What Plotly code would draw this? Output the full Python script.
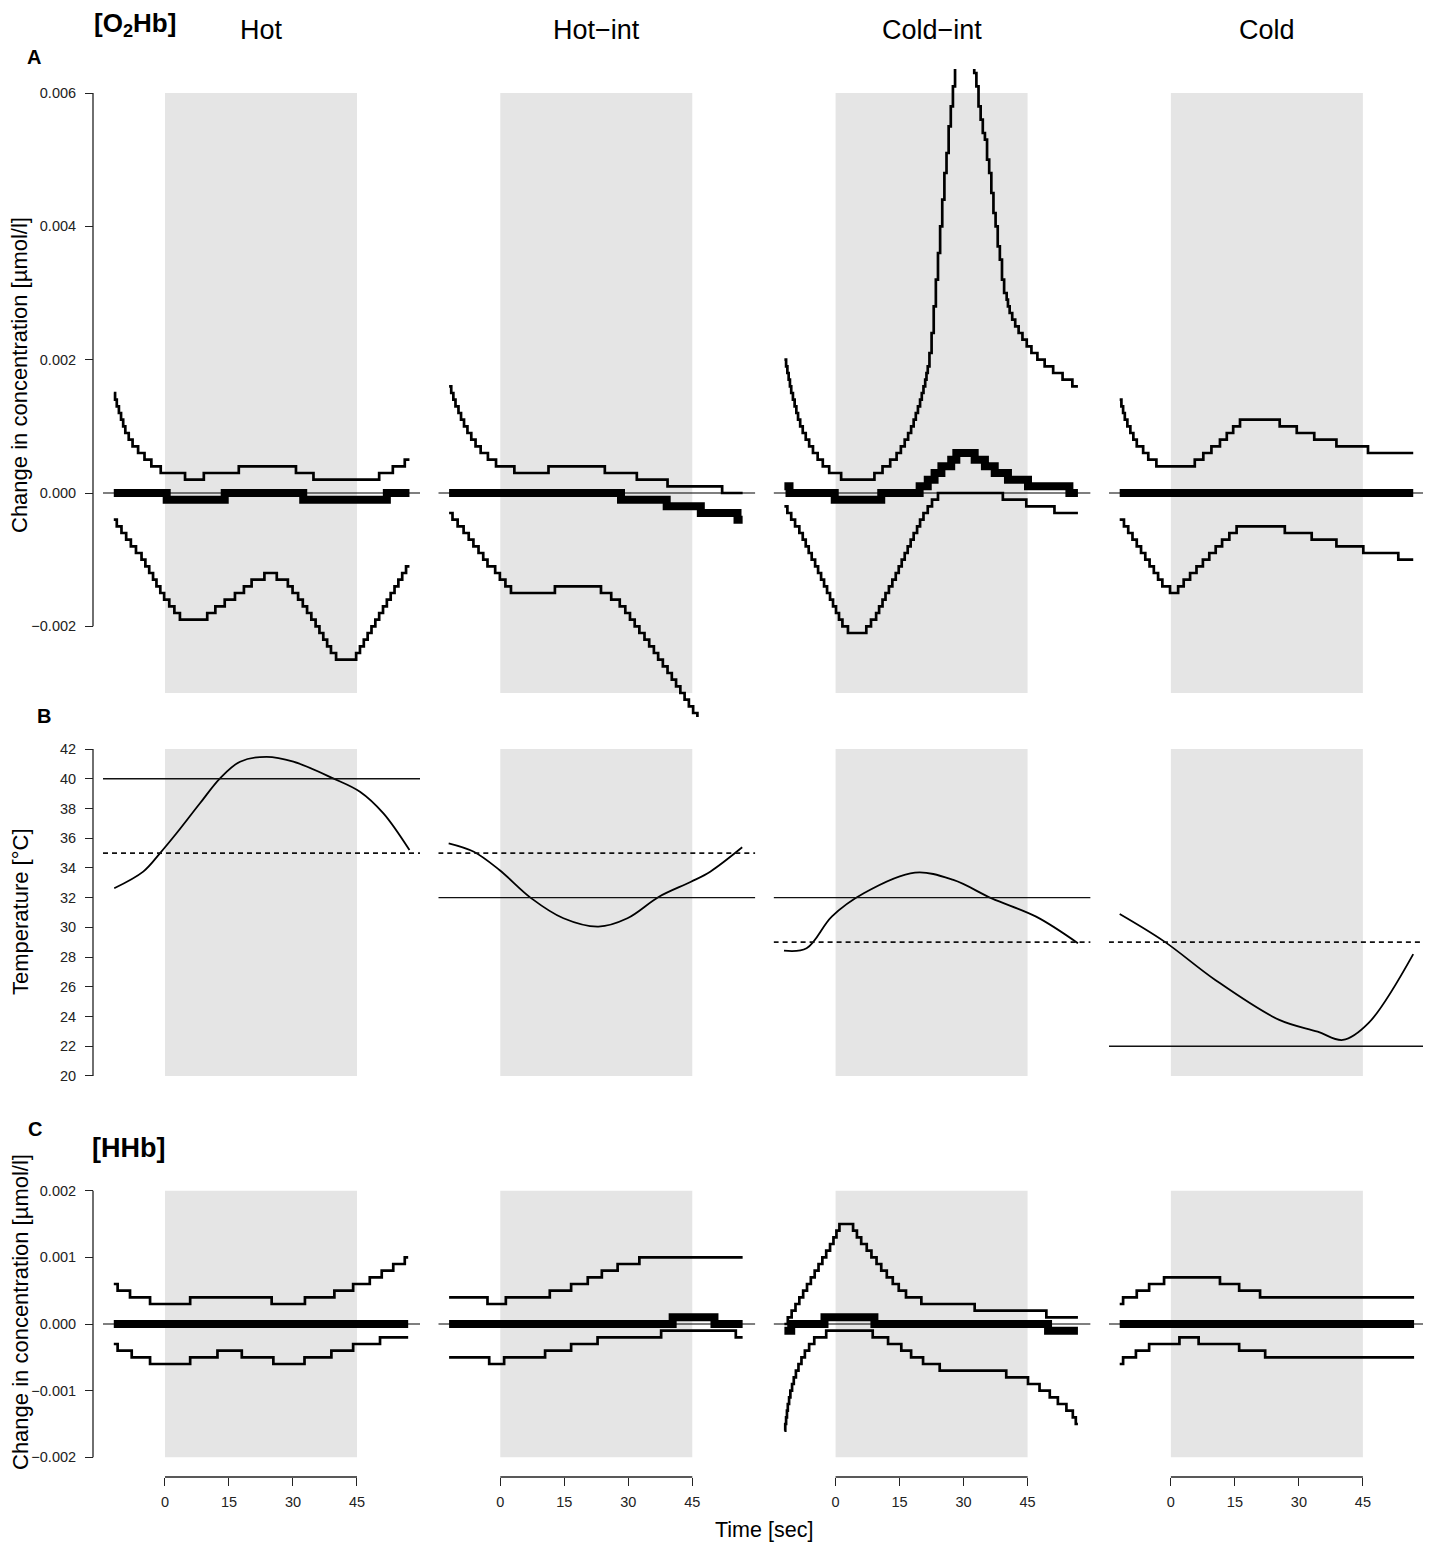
import plotly.graph_objects as go

# the page body has an 8px margin, so the figure is drawn 8px in from the window corner
OFF = 8
W, H = 1431 - OFF, 1548 - OFF
FONT = "Liberation Sans, Arial, Helvetica, sans-serif"

conditions = ["Hot", "Hot−int", "Cold−int", "Cold"]
stim_on, stim_off = 0, 45
time_ticks = [0, 15, 30, 45]
unit = 1e-4  # step-curve values are in units of 0.0001 µmol/l

# [O2Hb] step curves, (time [sec], value) at every change of level
o2_hot_upper = [(-12, 15), (-11.7, 14), (-11.3, 13), (-10.8, 12), (-10.3, 11), (-9.8, 10), (-9.3, 9),
                (-8.5, 8), (-7.6, 7), (-6.3, 6), (-4.8, 5), (-3.2, 4), (-1, 3), (4.7, 2), (9.1, 3),
                (17.3, 4), (30.7, 3), (34.8, 2), (50.2, 3), (53.4, 4), (56.2, 5), (57.3, 5)]
o2_hot_mid = [(-12, 0), (0.4, -1), (14, 0), (32.4, -1), (52, 0), (57.3, 0)]
o2_hot_lower = [(-12, -4), (-11.3, -5), (-10.2, -6), (-9.1, -7), (-8, -8), (-6.8, -9), (-5.5, -10),
                (-4.6, -11), (-3.7, -12), (-2.8, -13), (-2, -14), (-1.1, -15), (-0.2, -16), (1, -17),
                (2.2, -18), (3.5, -19), (9.9, -18), (11.8, -17), (14, -16), (16.4, -15), (18.5, -14),
                (20.3, -13), (23.3, -12), (26.2, -13), (28.8, -14), (29.9, -15), (31.2, -16),
                (32.3, -17), (33.3, -18), (34.3, -19), (35.3, -20), (36.2, -21), (37.1, -22),
                (38, -23), (38.9, -24), (40.1, -25), (44.8, -24), (45.7, -23), (46.6, -22),
                (47.5, -21), (48.4, -20), (49.3, -19), (50.2, -18), (51.1, -17), (52, -16),
                (52.9, -15), (53.8, -14), (54.7, -13), (55.6, -12), (56.5, -11), (57.3, -11)]

o2_hotint_upper = [(-12, 16), (-11.5, 15), (-11, 14), (-10.5, 13), (-9.8, 12), (-9.2, 11), (-8.5, 10),
                   (-7.7, 9), (-6.8, 8), (-5.8, 7), (-4.6, 6), (-2.9, 5), (-1, 4), (3.3, 3), (11.3, 4),
                   (24.5, 3), (32, 2), (39.2, 1), (52, 0), (56.8, 0)]
o2_hotint_mid = [(-12, 0), (28.3, -1), (39, -2), (47, -3), (55.6, -4), (56.8, -4)]
o2_hotint_lower = [(-12, -3), (-11.2, -4), (-10, -5), (-8.6, -6), (-7.4, -7), (-6.3, -8), (-5.1, -9),
                   (-4, -10), (-3, -11), (-1.2, -12), (-0.1, -13), (1.2, -14), (2.5, -15), (12.8, -14),
                   (23.6, -15), (26, -16), (28, -17), (29.3, -18), (30.4, -19), (31.5, -20),
                   (32.6, -21), (33.8, -22), (34.9, -23), (36, -24), (37, -25), (38.1, -26),
                   (39.2, -27), (40.2, -28), (41.2, -29), (42.2, -30), (43.2, -31), (44.2, -32),
                   (45.2, -33), (46.2, -34), (47.2, -35), (48.2, -36)]

o2_coldint_upper = [(-12, 20), (-11.6, 19), (-11.3, 18), (-11, 17), (-10.7, 16), (-10.4, 15), (-10, 14),
                    (-9.6, 13), (-9.2, 12), (-8.8, 11), (-8.3, 10), (-7.7, 9), (-7, 8), (-6.2, 7),
                    (-5.3, 6), (-4.2, 5), (-3, 4), (-1.5, 3), (1.3, 2), (9.1, 3), (11, 4), (12.8, 5),
                    (14.3, 6), (15.3, 7), (16.2, 8), (17, 9), (17.7, 10), (18.3, 11), (18.8, 12),
                    (19.3, 13), (19.8, 14), (20.2, 15), (20.6, 16), (21, 17), (21.3, 18), (21.6, 19),
                    (22, 21), (22.5, 24), (23, 28), (23.5, 32), (24, 36), (24.5, 40), (25, 44),
                    (25.5, 48), (26, 51), (26.5, 55), (27, 58), (27.5, 61), (28, 64), (29, 68),
                    (30, 72), (31, 70), (32, 66), (32.5, 63), (33, 61), (33.5, 58), (34, 56),
                    (34.5, 54), (35, 53), (35.5, 50), (36, 48), (36.5, 45), (37, 42), (37.5, 40),
                    (38, 37), (38.5, 35), (39, 32), (39.5, 30), (40.1, 29), (40.4, 28), (40.8, 27),
                    (41.4, 26), (42.1, 25), (42.9, 24), (43.8, 23), (44.8, 22), (45.9, 21),
                    (47.3, 20), (49, 19), (51, 18), (53.2, 17), (55.5, 16), (56.8, 16)]
o2_coldint_mid = [(-12, 1), (-10.8, 0), (-0.2, -1), (10.7, 0), (19.7, 1), (21.6, 2), (23.2, 3),
                  (24.8, 4), (27.1, 5), (28.3, 6), (32.6, 5), (35, 4), (37.3, 3), (40.4, 2),
                  (45.1, 1), (54.8, 0), (56.8, 0)]
o2_coldint_lower = [(-12, -2), (-11.3, -3), (-10.4, -4), (-9.5, -5), (-8.5, -6), (-7.7, -7), (-7, -8),
                    (-6.3, -9), (-5.6, -10), (-4.8, -11), (-4.1, -12), (-3.4, -13), (-2.7, -14),
                    (-2, -15), (-1.3, -16), (-0.6, -17), (0.1, -18), (0.8, -19), (1.6, -20),
                    (2.9, -21), (7.2, -20), (8.3, -19), (9.5, -18), (10.2, -17), (11, -16),
                    (11.7, -15), (12.5, -14), (13.3, -13), (14.1, -12), (14.8, -11), (15.5, -10),
                    (16.2, -9), (16.9, -8), (17.6, -7), (18.3, -6), (19.1, -5), (19.8, -4),
                    (20.6, -3), (21.6, -2), (22.6, -1), (24, 0), (39.2, -1), (44.7, -2),
                    (51.3, -3), (56.8, -3)]

o2_cold_upper = [(-12, 14), (-11.6, 13), (-11.2, 12), (-10.8, 11), (-10.2, 10), (-9.5, 9), (-8.8, 8),
                 (-8, 7), (-6.5, 6), (-5.3, 5), (-3.4, 4), (5.6, 5), (7.6, 6), (9.5, 7), (11.5, 8),
                 (13.1, 9), (14.6, 10), (16.2, 11), (25.5, 10), (29.5, 9), (33.6, 8), (38.8, 7),
                 (46.2, 6), (56.8, 6)]
o2_cold_mid = [(-12, 0), (56.8, 0)]
o2_cold_lower = [(-12, -4), (-11, -5), (-10, -6), (-9, -7), (-8, -8), (-7, -9), (-6, -10), (-5, -11),
                 (-4, -12), (-3, -13), (-2, -14), (-0.2, -15), (1.7, -14), (3, -13), (4.5, -12),
                 (6, -11), (7.5, -10), (9, -9), (10.5, -8), (12, -7), (13.7, -6), (15.4, -5),
                 (26.7, -6), (33, -7), (38.8, -8), (45.1, -9), (53.3, -10), (56.8, -10)]

# [HHb] step curves
hhb_hot_upper = [(-12, 6), (-11.1, 5), (-8.2, 4), (-3.5, 3), (5.9, 4), (25, 3), (32.8, 4), (39.7, 5),
                 (44.1, 6), (48, 7), (50.8, 8), (53.5, 9), (56.2, 10), (57, 10)]
hhb_hot_mid = [(-12, 0), (57, 0)]
hhb_hot_lower = [(-12, -3), (-11.1, -4), (-7.8, -5), (-3.5, -6), (5.9, -5), (12.3, -4), (18, -5),
                 (25.4, -6), (32.7, -5), (39, -4), (44.1, -3), (50.4, -2), (57, -2)]

hhb_hotint_upper = [(-12, 4), (-3, 3), (1.3, 4), (11.6, 5), (16.6, 6), (20.5, 7), (23.8, 8), (27.5, 9),
                    (32.6, 10), (56.8, 10)]
hhb_hotint_mid = [(-12, 0), (40.4, 1), (50.2, 0), (56.8, 0)]
hhb_hotint_lower = [(-12, -5), (-2.6, -6), (0.9, -5), (10.5, -4), (16.6, -3), (22.8, -2), (37.7, -1),
                    (55.2, -2), (56.8, -2)]

hhb_coldint_upper = [(-12, 0), (-11.2, 1), (-10.3, 2), (-9.4, 3), (-8.5, 4), (-7.6, 5), (-6.7, 6),
                     (-5.8, 7), (-4.9, 8), (-4, 9), (-3.1, 10), (-2.2, 11), (-1.3, 12), (-0.5, 13),
                     (0.2, 14), (0.9, 15), (4.1, 14), (5, 13), (6, 12), (7.3, 11), (8.4, 10),
                     (9.6, 9), (10.7, 8), (12, 7), (13.4, 6), (14.8, 5), (16.5, 4), (20.1, 3),
                     (32.6, 2), (49.4, 1), (56.8, 1)]
hhb_coldint_mid = [(-12, -1), (-10.4, 0), (-2.6, 1), (9.1, 0), (49.8, -1), (56.8, -1)]
hhb_coldint_lower = [(-12, -16), (-11.8, -15), (-11.6, -14), (-11.4, -13), (-11.2, -12), (-10.9, -11),
                     (-10.6, -10), (-10.2, -9), (-9.8, -8), (-9.3, -7), (-8.7, -6), (-8, -5),
                     (-7.2, -4), (-6.2, -3), (-5, -2), (-2.2, -1), (8.7, -2), (12.3, -3),
                     (15.4, -4), (17.7, -5), (20.5, -6), (24.4, -7), (40, -8), (45.1, -9),
                     (47.8, -10), (50.2, -11), (52.1, -12), (54.1, -13), (55.6, -14), (56.3, -15),
                     (56.8, -15)]

hhb_cold_upper = [(-12, 3), (-11.2, 4), (-8, 5), (-5.1, 6), (-1.6, 7), (11.5, 6), (16, 5), (20.9, 4),
                  (57, 4)]
hhb_cold_mid = [(-12, 0), (57, 0)]
hhb_cold_lower = [(-12, -6), (-11.2, -5), (-8.2, -4), (-5.1, -3), (2, -2), (6.5, -3), (16, -4),
                  (22.1, -5), (57, -5)]

# skin temperature [°C]
temp_hot = [(-11.9, 32.63), (-5.1, 33.75), (-1.2, 34.98), (2.7, 36.33), (8.2, 38.35), (12.9, 40.03),
            (17.6, 41.15), (23.8, 41.48), (30.1, 41.15), (39.4, 40.03), (45.7, 39.13),
            (51.2, 37.67), (57.3, 35.2)]
temp_hotint = [(-12.1, 35.66), (-6.2, 35.09), (-0.2, 33.86), (7.3, 31.95), (14.8, 30.61),
               (23, 30.05), (29.8, 30.61), (37.2, 32.06), (44.7, 33.07), (49.2, 33.75),
               (56.7, 35.39)]
temp_coldint = [(-12.1, 28.43), (-6.8, 28.59), (-0.9, 30.72), (6.6, 32.29), (18.6, 33.68),
                (27.6, 33.19), (36.6, 31.95), (47, 30.72), (56.8, 28.93)]
temp_cold = [(-12, 30.9), (-1.5, 29.04), (10.4, 26.46), (25.4, 23.77), (34.4, 22.98), (40.3, 22.42),
             (46.3, 23.55), (56.8, 28.2)]
temp_target = [40, 32, 32, 22]     # solid lines
temp_baseline = [35, 35, 29, 29]   # dashed lines

o2_ticks = [-0.002, 0.0, 0.002, 0.004, 0.006]
temp_ticks = [20, 22, 24, 26, 28, 30, 32, 34, 36, 38, 40, 42]
hhb_ticks = [-0.002, -0.001, 0.0, 0.001, 0.002]

o2_curves = [(o2_hot_upper, o2_hot_mid, o2_hot_lower),
             (o2_hotint_upper, o2_hotint_mid, o2_hotint_lower),
             (o2_coldint_upper, o2_coldint_mid, o2_coldint_lower),
             (o2_cold_upper, o2_cold_mid, o2_cold_lower)]
hhb_curves = [(hhb_hot_upper, hhb_hot_mid, hhb_hot_lower),
              (hhb_hotint_upper, hhb_hotint_mid, hhb_hotint_lower),
              (hhb_coldint_upper, hhb_coldint_mid, hhb_coldint_lower),
              (hhb_cold_upper, hhb_cold_mid, hhb_cold_lower)]
temp_curves = [temp_hot, temp_hotint, temp_coldint, temp_cold]

# page geometry, in window pixels
col_step = 335.3
plot_left, plot_right = 103, 420
x_range = [-14.53, 59.77]
yaxis_px = 93
xaxis_px = 1477
rows = [
    dict(top=69, bottom=717, lim=(-0.003, 0.006), ticks=o2_ticks, fmt=".3f"),
    dict(top=736, bottom=1089, lim=(20, 42), ticks=temp_ticks, fmt="d"),
    dict(top=1180, bottom=1468, lim=(-0.002, 0.002), ticks=hhb_ticks, fmt=".3f"),
]


def px(x):
    return (x - OFF) / W


def py(y):
    return 1 - (y - OFF) / H


def axname(n):
    return "" if n == 1 else str(n)


fig = go.Figure()
layout = {}
shapes = []
tickfont = dict(size=14.5, color="#222", family=FONT)

for r, row in enumerate(rows):
    lo, hi = row["lim"]
    pad = 0.04 * (hi - lo)
    for c in range(4):
        n = r * 4 + c + 1
        a = axname(n)
        xa, ya = "x" + a, "y" + a
        xdom = [px(plot_left + col_step * c), px(plot_right + col_step * c)]
        ydom = [py(row["bottom"]), py(row["top"])]

        xax = dict(domain=xdom, range=x_range, anchor=ya, showgrid=False, zeroline=False,
                   showline=False, visible=False)
        if r == 2:
            xax.update(visible=True, anchor="free", position=py(xaxis_px),
                       tickvals=time_ticks, ticks="outside", ticklen=8, tickwidth=1.3,
                       tickcolor="#222", ticklabelstandoff=4, tickfont=tickfont)
            shapes.append(dict(type="line", xref=xa, yref="paper", x0=stim_on, x1=stim_off,
                               y0=py(xaxis_px), y1=py(xaxis_px),
                               line=dict(color="#222", width=1.3)))
        yax = dict(domain=ydom, range=[lo - pad, hi + pad], anchor=xa, showgrid=False,
                   zeroline=False, showline=False, visible=False)
        if c == 0:
            yax.update(visible=True, anchor="free", position=px(yaxis_px), side="left",
                       tickvals=row["ticks"], tickformat=row["fmt"], ticks="outside",
                       ticklen=8, tickwidth=1.3, tickcolor="#222", ticklabelstandoff=6,
                       tickfont=tickfont)
            shapes.append(dict(type="line", xref="paper", yref=ya, x0=px(yaxis_px),
                               x1=px(yaxis_px), y0=row["ticks"][0], y1=row["ticks"][-1],
                               line=dict(color="#222", width=1.3)))
        layout["xaxis" + a] = xax
        layout["yaxis" + a] = yax

        # stimulation period
        shapes.append(dict(type="rect", xref=xa, yref=ya, x0=stim_on, x1=stim_off, y0=lo, y1=hi,
                           fillcolor="#e5e5e5", line=dict(width=0), layer="below"))

        if r in (0, 2):
            shapes.append(dict(type="line", xref=xa, yref=ya, x0=x_range[0], x1=x_range[1],
                               y0=0, y1=0, line=dict(color="black", width=1.2), layer="above"))
            curves = o2_curves[c] if r == 0 else hhb_curves[c]
            for k, pts in enumerate(curves):
                fig.add_trace(go.Scatter(
                    x=[p[0] for p in pts], y=[p[1] * unit for p in pts], mode="lines",
                    line=dict(shape="hv", color="black", width=8 if k == 1 else 2.7),
                    xaxis=xa, yaxis=ya, showlegend=False, hoverinfo="skip"))
        else:
            shapes.append(dict(type="line", xref=xa, yref=ya, x0=x_range[0], x1=x_range[1],
                               y0=temp_target[c], y1=temp_target[c],
                               line=dict(color="#111", width=1.4), layer="above"))
            shapes.append(dict(type="line", xref=xa, yref=ya, x0=x_range[0], x1=x_range[1],
                               y0=temp_baseline[c], y1=temp_baseline[c],
                               line=dict(color="#111", width=1.7, dash="5px,4px"), layer="above"))
            pts = temp_curves[c]
            fig.add_trace(go.Scatter(
                x=[p[0] for p in pts], y=[p[1] for p in pts], mode="lines",
                line=dict(shape="spline", smoothing=1.0, color="black", width=1.8),
                xaxis=xa, yaxis=ya, showlegend=False, hoverinfo="skip"))

annotations = []


def text(x, y, s, size, bold=False, angle=0):
    annotations.append(dict(x=px(x), y=py(y), xref="paper", yref="paper",
                            text=f"<b>{s}</b>" if bold else s, showarrow=False,
                            xanchor="center", yanchor="middle", textangle=angle,
                            font=dict(size=size, color="black", family=FONT)))


text(135, 24, "[O<sub>2</sub>Hb]", 26, bold=True)
text(128, 1148, "[HHb]", 27, bold=True)
text(34, 57, "A", 20, bold=True)
text(44, 716, "B", 20, bold=True)
text(35, 1129, "C", 20, bold=True)
for c, name in enumerate(conditions):
    text((plot_left + plot_right) / 2 + col_step * c, 30, name, 27)
text(20, 375, "Change in concentration [µmol/l]", 22, angle=-90)
text(20, 912, "Temperature [°C]", 22, angle=-90)
text(20, 1312, "Change in concentration [µmol/l]", 22, angle=-90)
text(764, 1530, "Time [sec]", 21.5)

fig.update_layout(
    width=W, height=H, margin=dict(l=0, r=0, t=0, b=0),
    paper_bgcolor="white", plot_bgcolor="white",
    font=dict(family=FONT, color="black"),
    shapes=shapes, annotations=annotations, **layout)

fig.write_html("out.html")
